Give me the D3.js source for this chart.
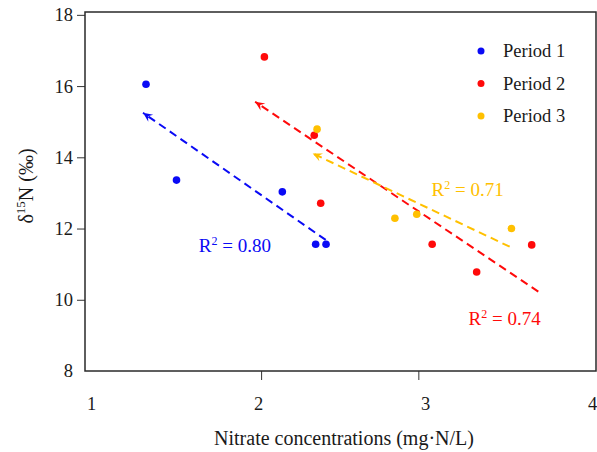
<!DOCTYPE html>
<html>
<head>
<meta charset="utf-8">
<script src="https://cdn.jsdelivr.net/npm/d3@7"></script>
<style>
  html, body { margin: 0; padding: 0; background: #fff; }
  svg { display: block; font-family: "Liberation Serif", "Times New Roman", serif; }
</style>
</head>
<body>
<svg id="chart" width="597" height="452"></svg>
<script>
// ---- data ----
const periods = ["Period 1", "Period 2", "Period 3"];
const period1X = [1.268, 1.462, 2.135, 2.347, 2.413];
const period1Y = [16.05, 13.36, 13.03, 11.56, 11.56];
const period2X = [2.021, 2.338, 2.379, 3.088, 3.371, 3.721];
const period2Y = [16.82, 14.62, 12.71, 11.56, 10.78, 11.54];
const period3X = [2.356, 2.851, 2.990, 3.592];
const period3Y = [14.79, 12.29, 12.40, 12.00];
// trend lines: [start x, start y, arrow-end x, arrow-end y]
const trend1 = [2.411, 11.68, 1.249, 15.25];
const trend2 = [3.763, 10.23, 1.962, 15.56];
const trend3 = [3.581, 11.49, 2.328, 14.11];
const r2Values = ["0.80", "0.74", "0.71"];
const xTickLabels = [1, 2, 3, 4];
const yTickLabels = [8, 10, 12, 14, 16, 18];

// ---- layout ----
const colors = ["#0a0af5", "#ff0a0a", "#ffc000"];
const svg = d3.select("#chart");
const L = 85, R = 596, T = 12, B = 371;
const x = d3.scaleLinear().domain([0.88, 4.13]).range([L, R]);
const xLabel = d3.scaleLinear().domain([1, 4]).range([91, 592]);
const y = d3.scaleLinear().domain([8, 18.08]).range([B, T]);

// y axis
const yAxis = svg.append("g").attr("transform", `translate(${L},0)`)
  .call(d3.axisLeft(y).tickValues(yTickLabels).tickSize(8).tickPadding(4).tickFormat(d3.format("d")));
yAxis.select(".domain").remove();
yAxis.selectAll(".tick line").attr("stroke", "#333").attr("stroke-width", 1)
  .filter(d => d === 8).remove();
yAxis.selectAll(".tick text").attr("font-size", 18.5).attr("fill", "#1a1a1a")
  .attr("font-family", "Liberation Serif");

// x axis tick marks (2 and 3)
const xAxis = svg.append("g").attr("transform", `translate(0,${B})`)
  .call(d3.axisBottom(x).tickValues([2, 3]).tickSize(9).tickFormat(""));
xAxis.select(".domain").remove();
xAxis.selectAll(".tick line").attr("stroke", "#333").attr("stroke-width", 1);

// x tick labels
const xLab = svg.append("g").attr("transform", `translate(0,${B})`)
  .call(d3.axisBottom(xLabel).tickValues(xTickLabels).tickSize(0).tickPadding(26).tickFormat(d3.format("d")));
xLab.select(".domain").remove();
xLab.selectAll(".tick text").attr("font-size", 18.5).attr("fill", "#1a1a1a")
  .attr("font-family", "Liberation Serif");

// frame
svg.append("rect").attr("x", L).attr("y", T).attr("width", R - L).attr("height", B - T)
  .attr("fill", "none").attr("stroke", "#2a2a2a").attr("stroke-width", 1.5);

// axis titles
svg.append("text").attr("x", 344).attr("y", 445).attr("text-anchor", "middle")
  .attr("font-size", 20).attr("fill", "#1a1a1a").text("Nitrate concentrations (mg·N/L)");
const yt = svg.append("text").attr("transform", "translate(33,186) rotate(-90)")
  .attr("text-anchor", "middle").attr("font-size", 20).attr("fill", "#1a1a1a");
yt.append("tspan").text("δ");
yt.append("tspan").attr("font-size", 13).attr("dy", -8).text("15");
yt.append("tspan").attr("dy", 8).text("N (‰)");

// arrow markers
const defs = svg.append("defs");
colors.forEach((c, i) => {
  defs.append("marker").attr("id", "arr" + i)
    .attr("viewBox", "-12 -6 14 12").attr("refX", 0).attr("refY", 0)
    .attr("markerWidth", 12).attr("markerHeight", 12).attr("markerUnits", "userSpaceOnUse")
    .attr("orient", "auto")
    .append("path").attr("d", "M0,0 L-11,-5 L-7,0 L-11,5 Z").attr("fill", c);
});

// trend lines
[trend1, trend2, trend3].forEach((t, i) => {
  svg.append("line")
    .attr("x1", x(t[0])).attr("y1", y(t[1])).attr("x2", x(t[2])).attr("y2", y(t[3]))
    .attr("stroke", colors[i]).attr("stroke-width", 2)
    .attr("stroke-dasharray", "8,5")
    .attr("marker-end", `url(#arr${i})`);
});

// points
const seriesX = [period1X, period2X, period3X];
const seriesY = [period1Y, period2Y, period3Y];
seriesX.forEach((xs, i) => {
  svg.append("g").selectAll("circle").data(xs).join("circle")
    .attr("cx", d => x(d)).attr("cy", (d, j) => y(seriesY[i][j]))
    .attr("r", 3.8).attr("fill", colors[i]);
});

// R² labels (anchored in data coordinates)
const r2Anchors = [[1.833, 11.35], [3.549, 9.29], [3.314, 12.91]];
r2Values.forEach((v, i) => {
  const t = svg.append("text").attr("x", x(r2Anchors[i][0])).attr("y", y(r2Anchors[i][1]))
    .attr("text-anchor", "middle").attr("font-size", 19).attr("fill", colors[i]);
  t.append("tspan").text("R");
  t.append("tspan").attr("font-size", 12).attr("dy", -7).text("2");
  t.append("tspan").attr("dy", 7).text(" = " + v);
});

// legend
const leg = svg.append("g");
periods.forEach((p, i) => {
  const ly = 51 + i * 32.5;
  leg.append("circle").attr("cx", 481).attr("cy", ly).attr("r", 3.5).attr("fill", colors[i]);
  leg.append("text").attr("x", 503).attr("y", ly + 6).attr("font-size", 18.5)
    .attr("fill", "#1a1a1a").text(p);
});
</script>
</body>
</html>
